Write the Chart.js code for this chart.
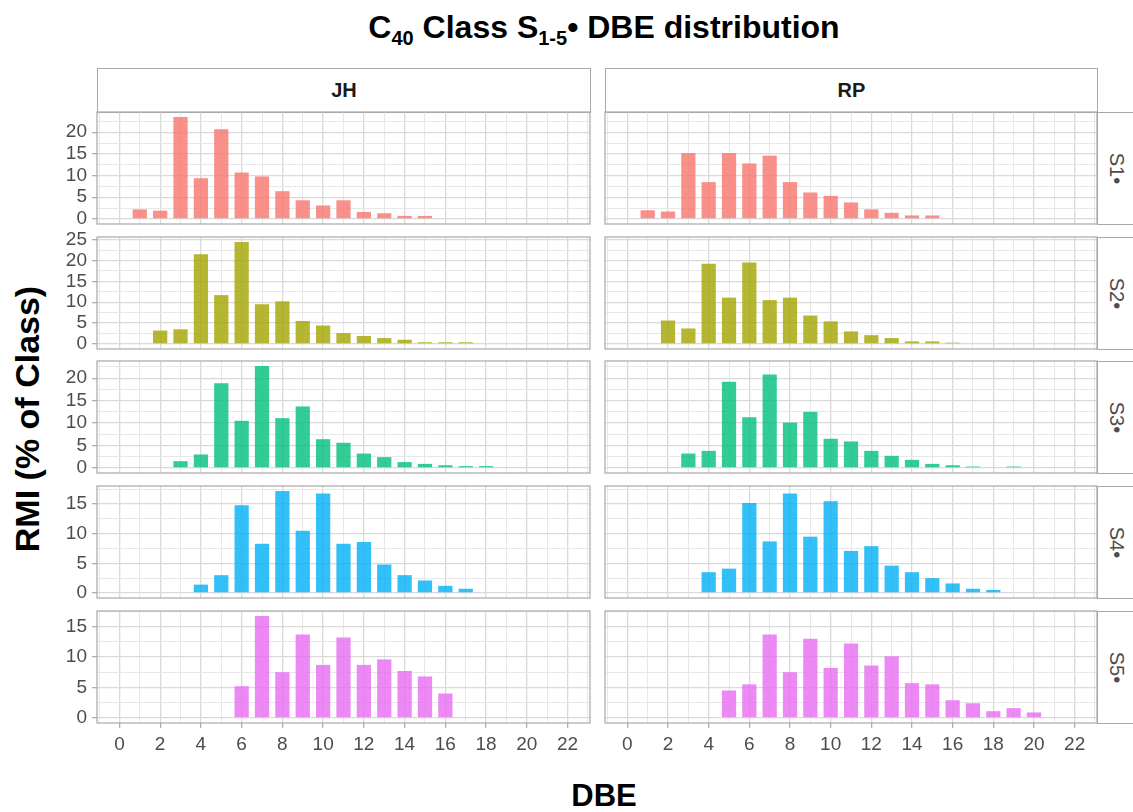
<!DOCTYPE html>
<html>
<head>
<meta charset="utf-8">
<script src="https://cdn.jsdelivr.net/npm/chart.js@4.4.1/dist/chart.umd.min.js"></script>
<style>
  body { margin: 0; background: #fff; font-family: 'Liberation Sans', Arial, sans-serif; }
  #wrap { position: relative; width: 1133px; height: 812px; overflow: hidden; background: #fff; }
  canvas { position: absolute; }
  .strip { position: absolute; box-sizing: border-box; border: 1px solid #a8a8a8; background: #fff;
           display: flex; align-items: center; justify-content: center; }
  .top-strip { font-weight: bold; font-size: 20px; color: #1a1a1a; }
  .side-strip span { display: inline-block; transform: rotate(90deg); font-size: 20px; color: #4d4d4d; }
  #title { position: absolute; top: 9px; left: 604px; transform: translateX(-50%); white-space: nowrap;
           font-weight: bold; font-size: 32px; color: #000; }
  #title sub { font-size: 20px; vertical-align: -7px; }
  #ytitle { position: absolute; left: 27px; top: 419px; transform: translate(-50%, -50%) rotate(-90deg);
            white-space: nowrap; font-weight: bold; font-size: 34px; }
  #xtitle { position: absolute; left: 604px; top: 796px; transform: translate(-50%, -50%);
            font-weight: bold; font-size: 31px; }
</style>
</head>
<body>
<div id="wrap">
  <div id="title">C<sub>40</sub> Class S<sub>1-5</sub>• DBE distribution</div>
  <div id="ytitle">RMI (% of Class)</div>
  <div id="xtitle">DBE</div>
</div>
<script>
// DBE classes 1..20, null = no bar
const DBE = [1, 2, 3, 4, 5, 6, 7, 8, 9, 10, 11, 12, 13, 14, 15, 16, 17, 18, 19, 20];

const JH_S1 = [2.2, 1.9, 23.5, 9.4, 20.7, 10.7, 9.8, 6.4, 4.3, 3.1, 4.3, 1.6, 1.3, 0.7, 0.7, null, null, null, null, null];
const RP_S1 = [2.0, 1.7, 15.2, 8.5, 15.2, 12.8, 14.6, 8.5, 6.1, 5.3, 3.8, 2.2, 1.4, 0.8, 0.8, null, null, null, null, null];
const JH_S2 = [null, 3.2, 3.5, 21.5, 11.7, 24.4, 9.5, 10.2, 5.5, 4.4, 2.6, 1.9, 1.4, 1.0, 0.4, 0.4, 0.4, null, null, null];
const RP_S2 = [null, 5.6, 3.7, 19.2, 11.1, 19.5, 10.5, 11.1, 6.8, 5.4, 3.0, 2.1, 1.4, 0.6, 0.6, 0.3, null, null, null, null];
const JH_S3 = [null, null, 1.5, 3.0, 18.9, 10.5, 22.7, 11.1, 13.7, 6.4, 5.6, 3.2, 2.4, 1.3, 0.9, 0.6, 0.4, 0.4, null, null];
const RP_S3 = [null, null, 3.2, 3.8, 19.2, 11.3, 20.8, 10.1, 12.5, 6.5, 5.9, 3.8, 2.7, 1.8, 0.9, 0.6, 0.3, null, 0.3, null];
const JH_S4 = [null, null, null, 1.4, 3.0, 14.8, 8.3, 17.2, 10.5, 16.8, 8.3, 8.6, 4.8, 3.0, 2.1, 1.2, 0.7, null, null, null];
const RP_S4 = [null, null, null, 3.5, 4.1, 15.2, 8.7, 16.8, 9.5, 15.5, 7.1, 7.9, 4.6, 3.5, 2.5, 1.6, 0.7, 0.5, null, null];
const JH_S5 = [null, null, null, null, null, 5.2, 16.7, 7.5, 13.7, 8.7, 13.2, 8.7, 9.6, 7.7, 6.8, 4.0, null, null, null, null];
const RP_S5 = [null, null, null, null, 4.5, 5.5, 13.7, 7.5, 13.0, 8.2, 12.2, 8.6, 10.1, 5.7, 5.5, 2.9, 2.4, 1.1, 1.6, 0.9];

const columns = ['JH', 'RP'];
const rows = ['S1•', 'S2•', 'S3•', 'S4•', 'S5•'];
const series = [[JH_S1, RP_S1], [JH_S2, RP_S2], [JH_S3, RP_S3], [JH_S4, RP_S4], [JH_S5, RP_S5]];
const colors = ['rgba(248,118,109,0.8)', 'rgba(163,165,0,0.8)', 'rgba(0,191,125,0.8)', 'rgba(0,176,246,0.8)', 'rgba(231,107,243,0.8)'];

// axis ticks / grid
const xTicks = [0, 2, 4, 6, 8, 10, 12, 14, 16, 18, 20, 22];
const yTicks = [0, 5, 10, 15, 20, 25];
const X_MIN = -1.1, X_MAX = 23.1;

// panel layout (px)
const colX = [[97, 590], [605, 1097]];
const rowTop = [112, 237, 361, 486, 611];
const PANEL_H = 112;
const PAD = 20;
const X_AXIS_H = 40;
const TICK_FONT = { family: "'Liberation Sans', Arial, sans-serif", size: 19 };

const wrap = document.getElementById('wrap');

const panelBorder = {
    id: 'panelBorder',
    afterDraw(chart) {
        const { ctx, chartArea: a } = chart;
        ctx.save();
        ctx.strokeStyle = '#a8a8a8';
        ctx.lineWidth = 1.2;
        ctx.strokeRect(a.left, a.top, a.right - a.left, a.bottom - a.top);
        ctx.restore();
    }
};

// strips on top
columns.forEach((name, c) => {
    const d = document.createElement('div');
    d.className = 'strip top-strip';
    Object.assign(d.style, { left: colX[c][0] + 'px', top: '68px', width: (colX[c][1] - colX[c][0] + 1) + 'px', height: '45px' });
    d.textContent = name;
    wrap.appendChild(d);
});
// strips on the right
rows.forEach((name, r) => {
    const d = document.createElement('div');
    d.className = 'strip side-strip';
    Object.assign(d.style, { left: colX[1][1] + 'px', top: rowTop[r] + 'px', width: '40px', height: (PANEL_H + 1) + 'px' });
    d.innerHTML = '<span>' + name + '</span>';
    wrap.appendChild(d);
});

function makePanel(r, c) {
    const vals = series[r][c];
    const rowMax = Math.max(...series[r][0].filter(v => v !== null), ...series[r][1].filter(v => v !== null));
    const yMax = rowMax * 1.05, yMin = -rowMax * 0.05;
    const isBottom = r === rows.length - 1;
    const isLeft = c === 0;

    const yGrid = [];
    for (let v = 0; v <= yMax; v += 2.5) yGrid.push(v);
    const xGrid = [];
    for (let v = -1; v <= 23; v++) xGrid.push(v);

    const cv = document.createElement('canvas');
    const left = isLeft ? 0 : colX[c][0] - PAD;
    const width = colX[c][1] + PAD - left;
    const top = rowTop[r] - PAD;
    const height = isBottom ? PAD + PANEL_H + X_AXIS_H : PANEL_H + 2 * PAD;
    cv.width = width; cv.height = height;
    cv.style.left = left + 'px'; cv.style.top = top + 'px';
    wrap.appendChild(cv);

    new Chart(cv.getContext('2d'), {
        type: 'bar',
        data: {
            datasets: [{
                data: DBE.map((x, i) => ({ x: x, y: vals[i] })),
                backgroundColor: colors[r],
                borderWidth: 0,
                categoryPercentage: 1,
                barPercentage: 0.7
            }]
        },
        options: {
            responsive: false,
            animation: false,
            devicePixelRatio: 1,
            layout: { padding: { left: isLeft ? 0 : PAD, right: PAD, top: PAD, bottom: isBottom ? 0 : PAD } },
            plugins: { legend: { display: false }, tooltip: { enabled: false } },
            scales: {
                x: {
                    type: 'linear',
                    offset: false,
                    min: X_MIN, max: X_MAX,
                    border: { display: false },
                    grid: {
                        offset: false,
                        color: ctx => (ctx.tick && ctx.tick.value % 2 === 0) ? '#dadada' : '#e8e8e8',
                        lineWidth: ctx => (ctx.tick && ctx.tick.value % 2 === 0) ? 1.3 : 1,
                        drawTicks: isBottom,
                        tickLength: 5,
                        tickColor: ctx => (ctx.tick && xTicks.includes(ctx.tick.value)) ? '#b0b0b0' : 'rgba(0,0,0,0)'
                    },
                    ticks: {
                        display: isBottom,
                        autoSkip: false,
                        maxRotation: 0, minRotation: 0,
                        padding: 5,
                        color: '#4d4d4d',
                        font: TICK_FONT,
                        callback: v => xTicks.includes(v) ? String(v) : ''
                    },
                    afterBuildTicks: s => { s.ticks = xGrid.map(v => ({ value: v })); },
                    afterFit: s => { s.height = isBottom ? X_AXIS_H : 0; }
                },
                y: {
                    min: yMin, max: yMax,
                    border: { display: false },
                    grid: {
                        color: ctx => (ctx.tick && ctx.tick.value % 5 === 0) ? '#dadada' : '#e8e8e8',
                        lineWidth: ctx => (ctx.tick && ctx.tick.value % 5 === 0) ? 1.3 : 1,
                        drawTicks: isLeft,
                        tickLength: 5,
                        tickColor: ctx => (ctx.tick && yTicks.includes(ctx.tick.value)) ? '#b0b0b0' : 'rgba(0,0,0,0)'
                    },
                    ticks: {
                        display: isLeft,
                        autoSkip: false,
                        padding: 5,
                        color: '#4d4d4d',
                        font: TICK_FONT,
                        callback: v => yTicks.includes(v) ? String(v) : ''
                    },
                    afterBuildTicks: s => { s.ticks = yGrid.map(v => ({ value: v })); },
                    afterFit: s => { s.width = isLeft ? colX[0][0] : 0; }
                }
            }
        },
        plugins: [panelBorder]
    });
}

for (let r = 0; r < rows.length; r++) {
    for (let c = 0; c < columns.length; c++) makePanel(r, c);
}
</script>
</body>
</html>
